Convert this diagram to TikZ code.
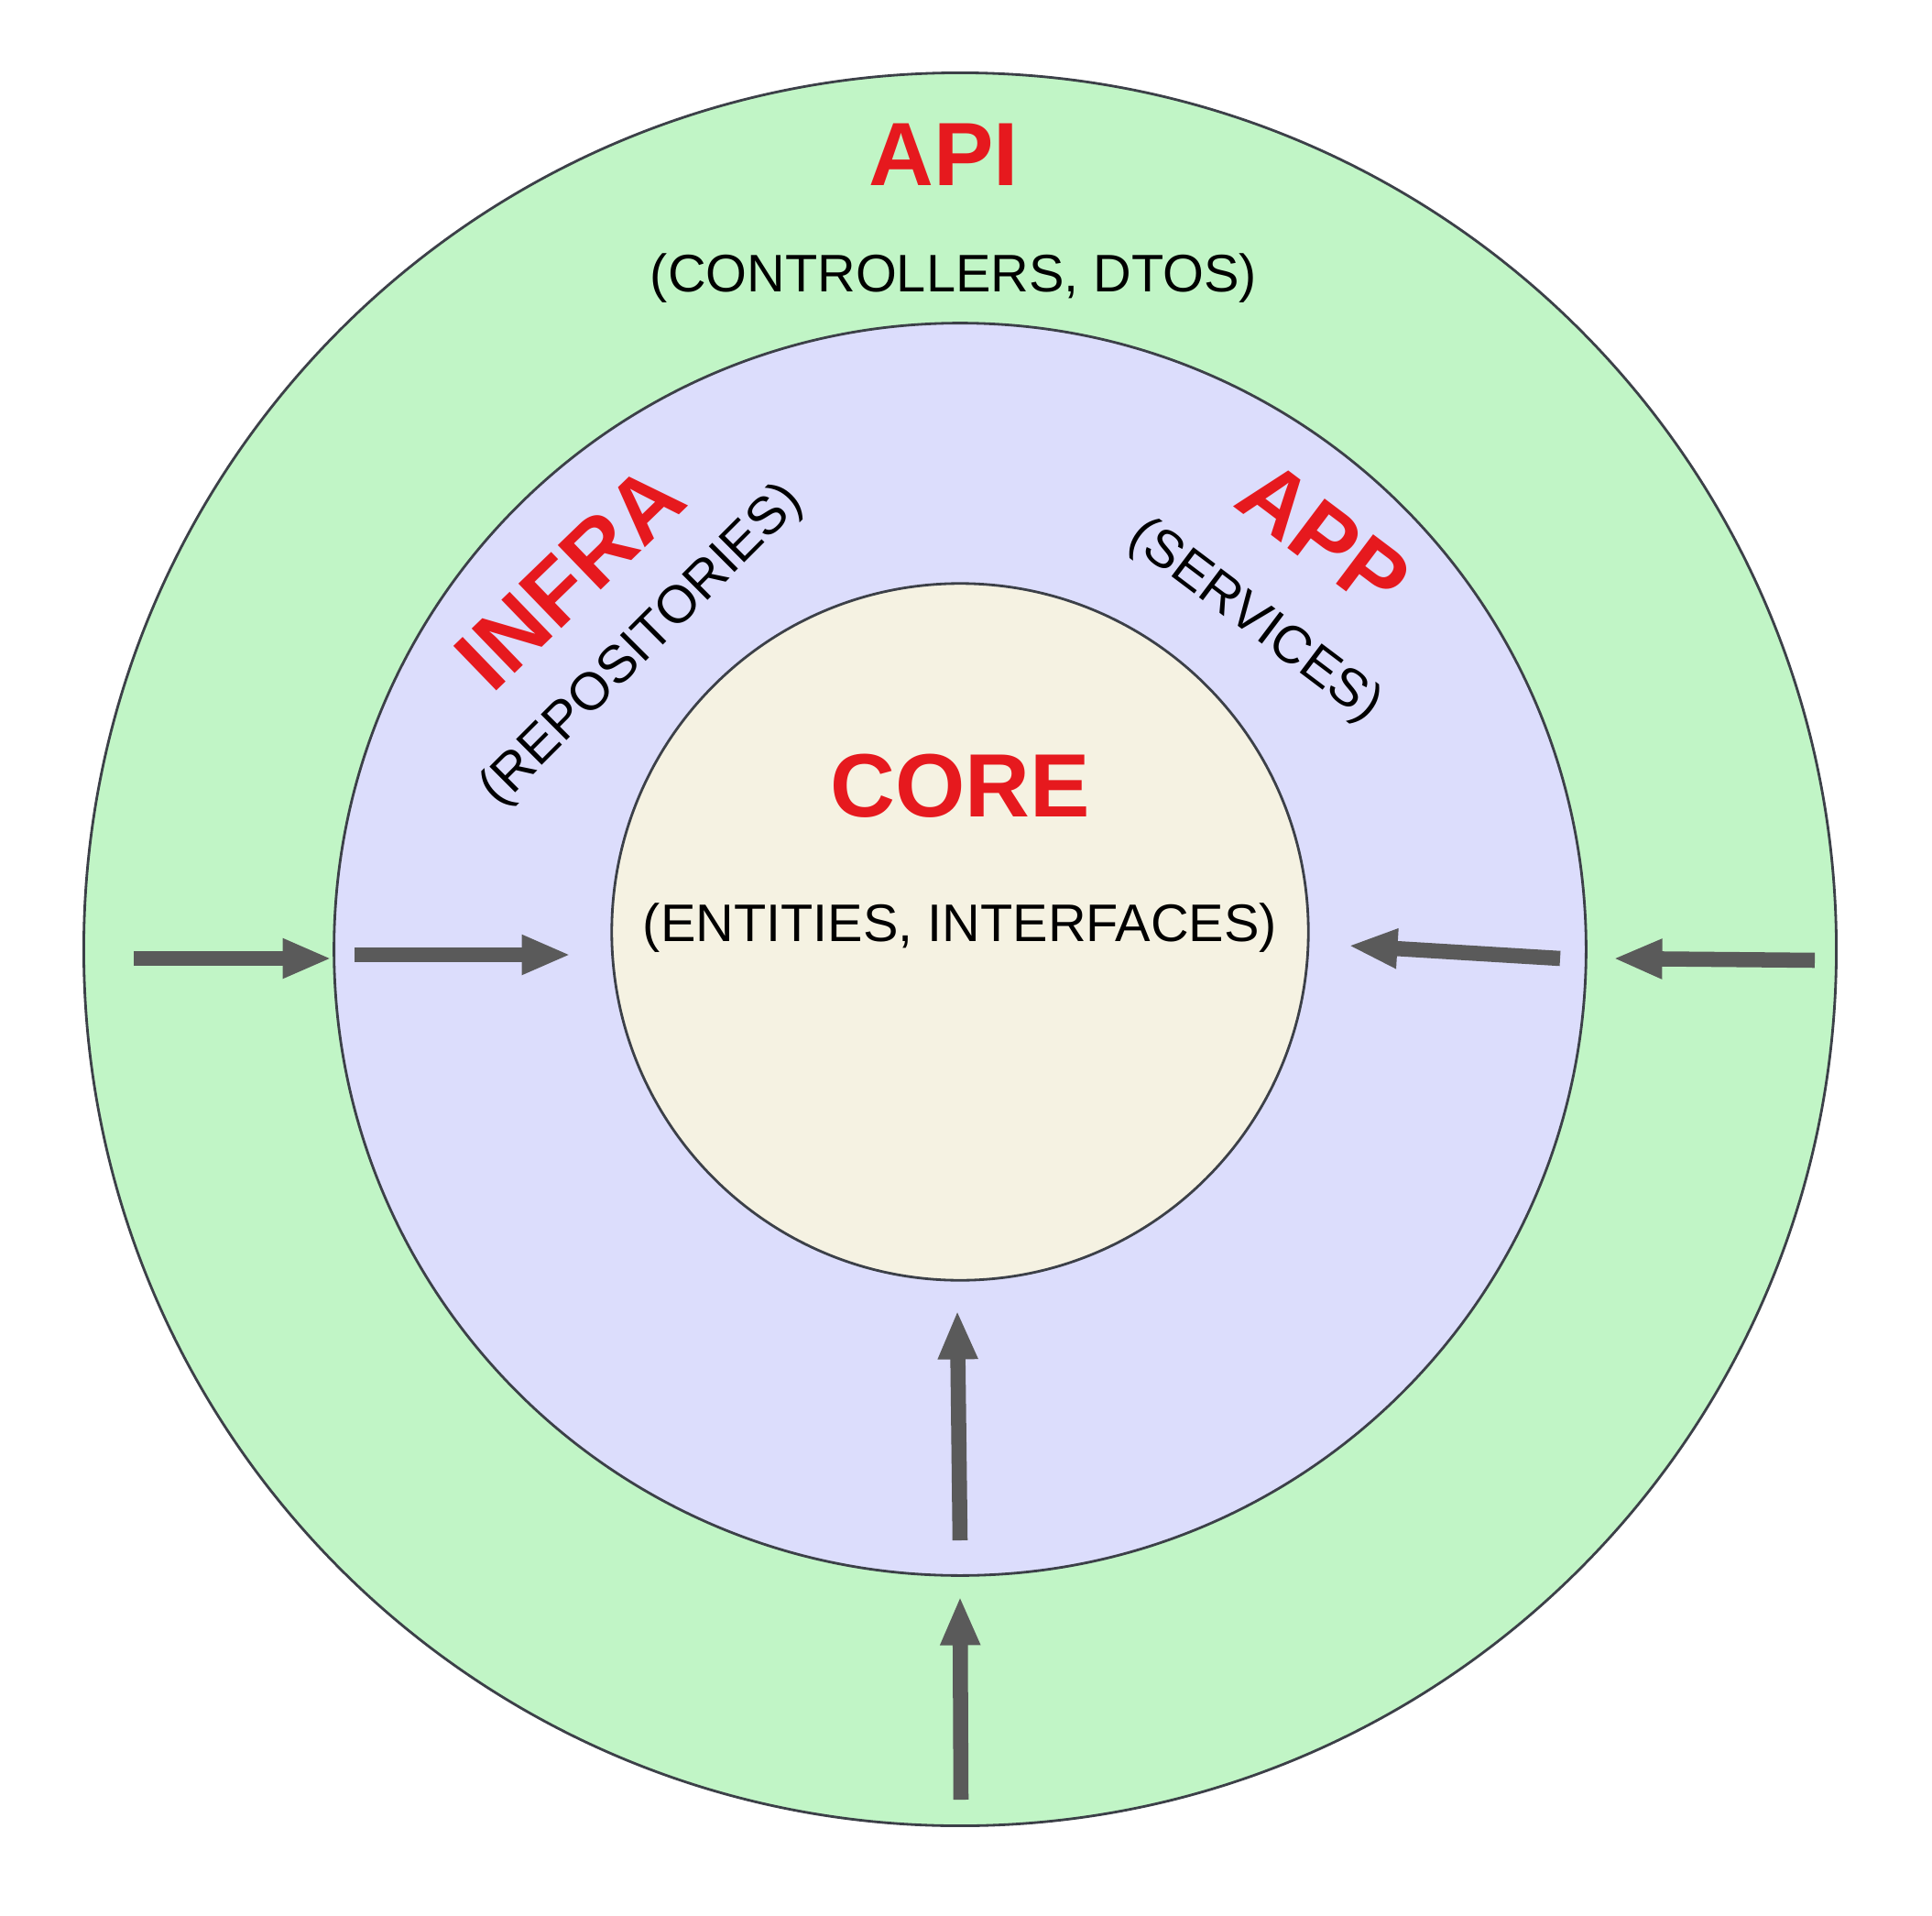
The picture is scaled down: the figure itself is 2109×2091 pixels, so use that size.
\documentclass[tikz,border=0pt]{standalone}
\usepackage{fontspec}
\setmainfont{Liberation Sans}
\usetikzlibrary{arrows.meta}
\definecolor{ringgreen}{RGB}{193,245,198}
\definecolor{ringblue}{RGB}{220,221,252}
\definecolor{corefill}{RGB}{245,242,226}
\definecolor{ringline}{RGB}{60,64,72}
\definecolor{labelred}{RGB}{230,25,30}
\definecolor{arrowgray}{RGB}{90,90,90}
\begin{document}
\begin{tikzpicture}[x=0.01cm,y=-0.01cm,
  ring/.style={circle, draw=ringline, line width=0.8pt, inner sep=0pt},
  title/.style={text=labelred, font=\fontsize{27.9}{30}\selectfont\bfseries, inner sep=0pt, text height=20pt, text depth=0pt},
  sub/.style={text=black, font=\fontsize{16.4}{18}\selectfont, inner sep=0pt, text height=11.74pt, text depth=0pt},
  flow/.style={draw=arrowgray, line width=4.7pt, -{Triangle[length=15.2pt,width=11.4pt]}}]
\useasboundingbox[fill=white] (0,0) rectangle (2109,2091);
% rings
\node[ring, fill=ringgreen, minimum size=19.12cm] (api) at (1048,1036) {};
\node[ring, fill=ringblue, minimum size=13.66cm] (mid) at (1048,1036) {};
\node[ring, fill=corefill, minimum size=7.6cm] (core) at (1048,1017) {};
% labels
\node[title] (apit) at (1030,167) {API};
\node[sub] (apis) at (1041,298) {(CONTROLLERS, DTOS)};
\node[title] (coret) at (1048,856) {CORE};
\node[sub] (cores) at (1048,1007) {(ENTITIES, INTERFACES)};
\node[title, rotate=44] (infrat) at (621,629) {INFRA};
\node[sub, rotate=45] (infras) at (697,701) {(REPOSITORIES)};
\node[title, rotate=-37] (appt) at (1446,584) {APP};
\node[sub, rotate=-37] (apps) at (1373,674) {(SERVICES)};
% arrow end points
\coordinate (a1s) at (146,1046);  \coordinate (a1e) at (362,1046);
\coordinate (a2s) at (387,1042);  \coordinate (a2e) at (623,1042);
\coordinate (a3s) at (1703,1046); \coordinate (a3e) at (1472,1032);
\coordinate (a4s) at (1981,1048); \coordinate (a4e) at (1761,1046);
\coordinate (a5s) at (1048,1681); \coordinate (a5e) at (1045,1430);
\coordinate (a6s) at (1049,1964); \coordinate (a6e) at (1048,1742);
\draw[flow] (a1s) -- (a1e);
\draw[flow] (a2s) -- (a2e);
\draw[flow] (a3s) -- (a3e);
\draw[flow] (a4s) -- (a4e);
\draw[flow] (a5s) -- (a5e);
\draw[flow] (a6s) -- (a6e);
\end{tikzpicture}
\end{document}
